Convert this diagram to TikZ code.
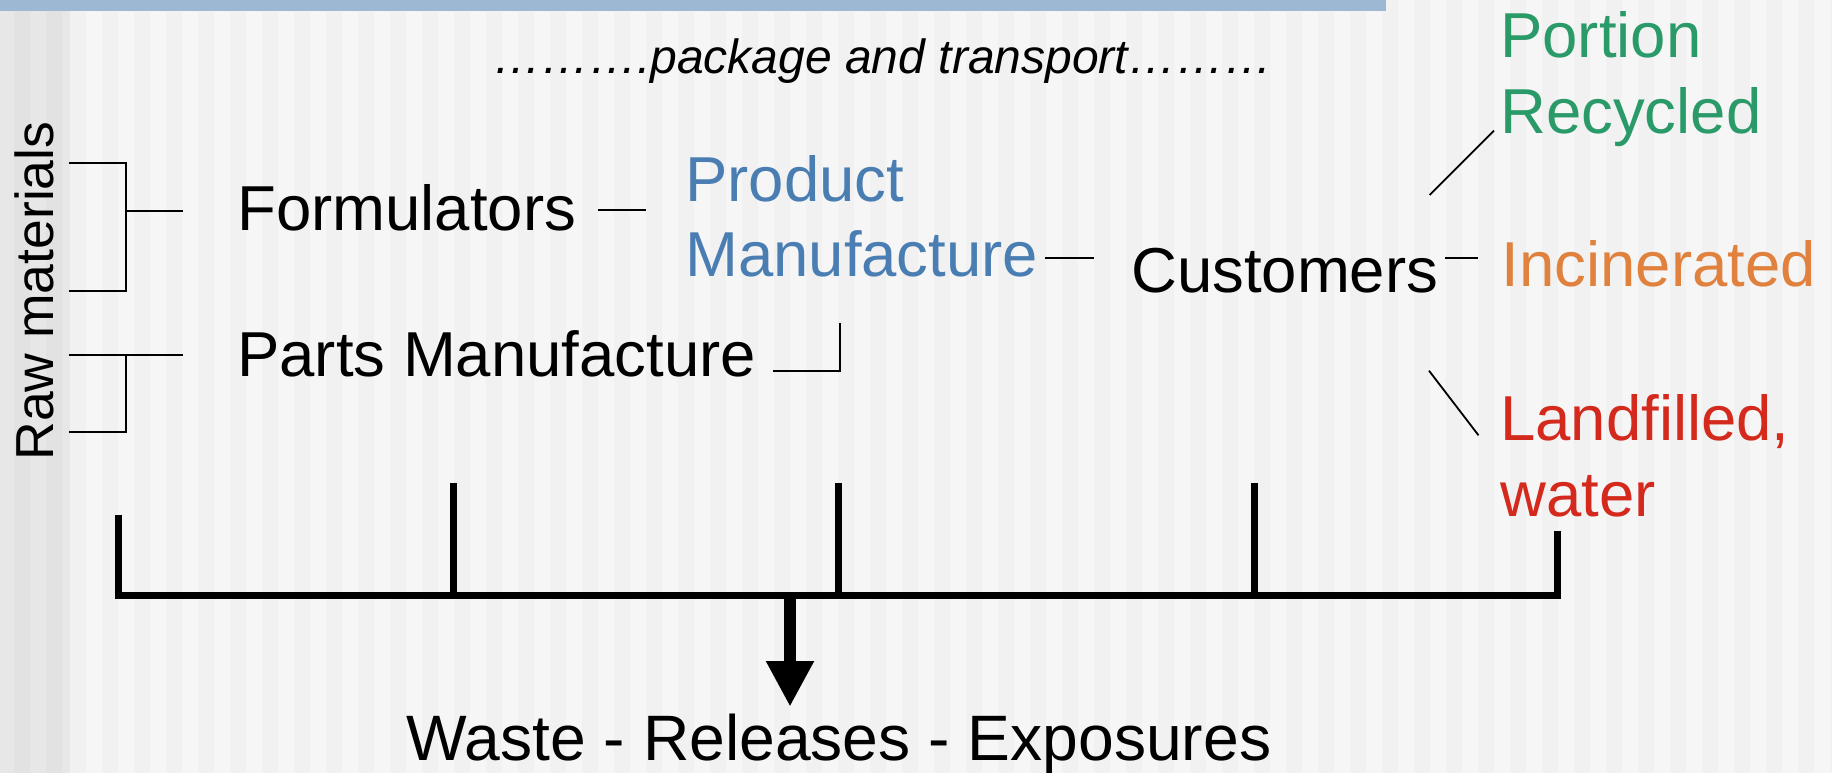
\documentclass[tikz,border=0pt]{standalone}
\usepackage{fontspec}
\setmainfont{Liberation Sans}
\usetikzlibrary{arrows.meta}
\definecolor{bgA}{HTML}{F6F6F6}
\definecolor{bgB}{HTML}{F1F1F1}
\definecolor{lsA}{HTML}{E7E7E7}
\definecolor{lsB}{HTML}{E2E2E2}
\definecolor{barblue}{HTML}{9CB8D2}
\definecolor{prodblue}{HTML}{4A7EB3}
\definecolor{recgreen}{HTML}{2A9A69}
\definecolor{incorange}{HTML}{E0823D}
\definecolor{landred}{HTML}{D42A1D}
\begin{document}
\begin{tikzpicture}[x=1pt,y=-1pt,
  lbl/.style={inner sep=0pt, anchor=base west, font=\fontsize{63.5}{76}\selectfont},
  thin link/.style={draw=black, line width=1.8pt},
  bus/.style={draw=black, line width=7pt, line join=miter, line cap=butt}]
\useasboundingbox (0,0) rectangle (1832,773);
% background
\fill[bgA] (0,0) rectangle (1832,773);
\foreach \i in {0,...,55} {\fill[bgB] ({70+32*\i},0) rectangle ({86+32*\i},773);}
\fill[lsA] (0,0) rectangle (70,773);
\fill[lsB] (14,0) rectangle (30,773);
\fill[lsB] (46,0) rectangle (62,773);
\fill[barblue] (0,0) rectangle (1386,11);
% texts
\node[inner sep=0pt, anchor=base west, font=\fontsize{48}{56}\selectfont\itshape] (pkg) at (493,73.3) {……….package and transport………};
\node[inner sep=0pt, anchor=base, rotate=90, font=\fontsize{53.5}{64}\selectfont] (raw) at (53.6,291) {Raw materials};
\node[lbl] (form) at (237,230) {Formulators};
\node[lbl] (parts) at (237,376.7) {Parts Manufacture};
\node[lbl, text=prodblue] (prodA) at (685,201) {Product};
\node[lbl, text=prodblue] (prod) at (685,276.7) {Manufacture};
\node[lbl] (cust) at (1131,292.7) {Customers};
\node[lbl, text=recgreen] (recA) at (1500,57.3) {Portion};
\node[lbl, text=recgreen] (rec) at (1500,133.3) {Recycled};
\node[lbl, text=incorange] (inc) at (1501.5,286.7) {Incinerated};
\node[lbl, text=landred] (landA) at (1500,440) {Landfilled,};
\node[lbl, text=landred] (land) at (1500,516.7) {water};
\node[lbl, font=\fontsize{64.2}{76}\selectfont] (waste) at (406.4,760) {Waste - Releases - Exposures};
% connector end points
\coordinate (rawA1) at (69,162.7);
\coordinate (rawA2) at (69,290.7);
\coordinate (brA) at (126,210.7);
\coordinate (formIn) at (183,210.7);
\coordinate (rawB1) at (69,355);
\coordinate (rawB2) at (69,432);
\coordinate (brB) at (126,355);
\coordinate (partsIn) at (183,355);
\coordinate (formOut) at (598,210);
\coordinate (prodIn) at (646,210);
\coordinate (partsOut) at (773,370.7);
\coordinate (partsUp) at (840,322.7);
\coordinate (prodOut) at (1045,258.3);
\coordinate (custIn) at (1094,258.3);
\coordinate (custR) at (1429.7,195);
\coordinate (recIn) at (1494,130.7);
\coordinate (custI) at (1445,258.3);
\coordinate (incIn) at (1478,258.3);
\coordinate (custL) at (1429,370.7);
\coordinate (landIn) at (1478.5,435.3);
% thin connectors
\draw[thin link] (rawA1) -| (rawA2 -| brA) -- (rawA2);
\draw[thin link] (brA) -- (formIn);
\draw[thin link] (partsIn) -- (rawB1);
\draw[thin link] (brB) |- (rawB2);
\draw[thin link] (formOut) -- (prodIn);
\draw[thin link] (partsOut) -| (partsUp);
\draw[thin link] (prodOut) -- (custIn);
\draw[thin link] (custR) -- (recIn);
\draw[thin link] (custI) -- (incIn);
\draw[thin link] (custL) -- (landIn);
% bottom bus
\coordinate (t1) at (118,515);
\coordinate (t2) at (453.5,483.3);
\coordinate (t3) at (838,483.3);
\coordinate (t4) at (1254,483.3);
\coordinate (t5) at (1557,531);
\coordinate (busL) at (118,595);
\coordinate (busR) at (1557,595);
\coordinate (busM) at (790,595);
\coordinate (tip) at (790,706.7);
\draw[bus] (t1) -- (busL) -- (busR) -- (t5);
\draw[bus] (t2) -- (t2 |- busL);
\draw[bus] (t3) -- (t3 |- busL);
\draw[bus] (t4) -- (t4 |- busL);
\draw[line width=11.3pt, -{Triangle[width=45pt,length=45.7pt]}] (busM) -- (tip);
\end{tikzpicture}
\end{document}
